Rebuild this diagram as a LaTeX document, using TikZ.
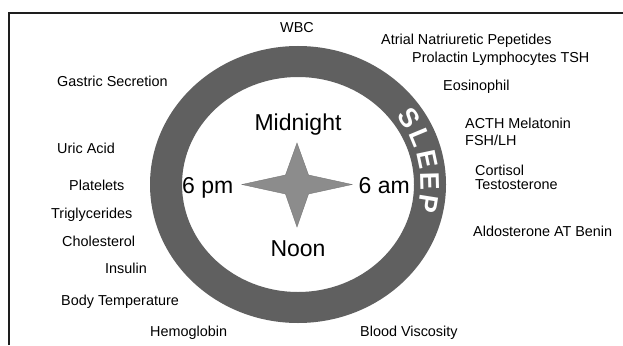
\documentclass[tikz,border=0pt]{standalone}
\usepackage{fontspec}
\setmainfont{Liberation Sans}
\definecolor{ringgrey}{RGB}{96,96,96}
\definecolor{stargrey}{RGB}{140,140,140}
\definecolor{framegrey}{RGB}{30,30,30}
\begin{document}
\begin{tikzpicture}[x=1pt,y=-1pt,
  lbl/.style={font=\fontsize{14.4}{16}\selectfont, inner sep=0pt, text height=10pt, text depth=0pt, anchor=west},
  big/.style={font=\fontsize{23}{26}\selectfont, inner sep=0pt, text height=16pt, text depth=0pt},
  sleepletter/.style={font=\fontsize{27}{30}\selectfont\bfseries, text=white, inner sep=0pt}]
\useasboundingbox[fill=white] (0,0) rectangle (623,345);
\draw[line width=2pt, framegrey] (9,345) -- (9,13) -- (623,13);
% ring
\fill[ringgrey, even odd rule] (298,184.5) ellipse [x radius=148, y radius=138.5]
  (298,184.5) ellipse [x radius=116, y radius=107.5];
% star
\fill[stargrey, draw=stargrey!85!black, line width=0.4pt]
  (297,143) -- (308.5,175) -- (352,184.5) -- (308.5,194) -- (297,227)
  -- (285.5,194) -- (242,184.5) -- (285.5,175) -- cycle;
% SLEEP
\foreach \ch/\a [count=\i] in {S/33,L/22.5,E/12,E/1.5,P/-9}
  \node[sleepletter, rotate=\a-90] (sl\i) at ({298+132*cos(\a)},{184.5-123*sin(\a)}) {\ch};
% clock labels
\node[big] (mid) at (298,122) {Midnight};
\node[big] (noon) at (298,248) {Noon};
\node[big, anchor=west] (pm) at (182,185) {6 pm};
\node[big, anchor=east] (am) at (410,185) {6 am};
% outer labels
\node[lbl, anchor=center] (wbc) at (297,28) {WBC};
\node[lbl] (anp) at (381,40) {Atrial Natriuretic Pepetides};
\node[lbl] (prl) at (412,58) {Prolactin Lymphocytes TSH};
\node[lbl] (gas) at (57,81) {Gastric Secretion};
\node[lbl] (eos) at (443,85) {Eosinophil};
\node[lbl] (acth) at (465,123) {ACTH Melatonin};
\node[lbl] (fsh) at (465,140) {FSH/LH};
\node[lbl] (uric) at (57,148) {Uric Acid};
\node[lbl] (cort) at (475,170) {Cortisol};
\node[lbl] (test) at (475,184) {Testosterone};
\node[lbl] (plt) at (69,185) {Platelets};
\node[lbl] (tri) at (51,213) {Triglycerides};
\node[lbl] (ald) at (473,231) {Aldosterone AT Benin};
\node[lbl] (chol) at (62,241) {Cholesterol};
\node[lbl] (ins) at (105,268) {Insulin};
\node[lbl] (body) at (61,300) {Body Temperature};
\node[lbl] (hem) at (150,331) {Hemoglobin};
\node[lbl] (blood) at (360,331) {Blood Viscosity};
\end{tikzpicture}
\end{document}
